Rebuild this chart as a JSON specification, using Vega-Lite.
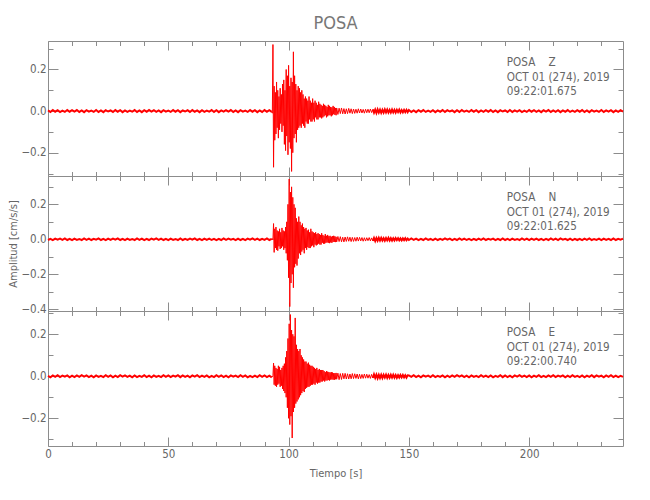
{
"$schema":"https://vega.github.io/schema/vega-lite/v6.json",
"padding":{"left":7,"top":15,"right":5,"bottom":5},
"background":"white",
"title":{"text":"POSA","fontSize":18,"font":"DejaVu Sans Condensed, sans-serif","fontWeight":"normal","color":"#777","anchor":"middle","frame":"group","offset":7},
"data":{"name":"trace","values":[
{"t":0,"z":0.003,"n":-0.004,"e":0.002},{"t":1,"z":-0.004,"n":0.003,"e":-0.005},{"t":2,"z":0.005,"n":-0.005,"e":0.004},{"t":3,"z":-0.003,"n":0.004,"e":-0.003},{"t":4,"z":0.004,"n":-0.002,"e":0.005},{"t":5,"z":-0.005,"n":0.004,"e":-0.004},{"t":6,"z":0.002,"n":-0.003,"e":0.003},{"t":7,"z":-0.004,"n":0.005,"e":-0.002},{"t":8,"z":0.005,"n":-0.004,"e":0.004},{"t":9,"z":-0.003,"n":0.003,"e":-0.005},
{"t":10,"z":0.004,"n":-0.005,"e":0.003},{"t":11,"z":-0.002,"n":0.004,"e":-0.004},{"t":12,"z":0.005,"n":-0.003,"e":0.004},{"t":13,"z":-0.004,"n":0.002,"e":-0.003},{"t":14,"z":0.003,"n":-0.004,"e":0.005},{"t":15,"z":-0.005,"n":0.005,"e":-0.002},{"t":16,"z":0.004,"n":-0.003,"e":0.004},{"t":17,"z":-0.003,"n":0.004,"e":-0.004},{"t":18,"z":0.002,"n":-0.004,"e":0.003},{"t":19,"z":-0.004,"n":0.003,"e":-0.005},
{"t":20,"z":0.005,"n":-0.002,"e":0.004},{"t":21,"z":-0.004,"n":0.005,"e":-0.003},{"t":22,"z":0.003,"n":-0.004,"e":0.002},{"t":23,"z":-0.005,"n":0.003,"e":-0.004},{"t":24,"z":0.004,"n":-0.005,"e":0.005},{"t":25,"z":-0.002,"n":0.004,"e":-0.003},{"t":26,"z":0.003,"n":-0.003,"e":0.004},{"t":27,"z":-0.004,"n":0.004,"e":-0.005},{"t":28,"z":0.005,"n":-0.002,"e":0.003},{"t":29,"z":-0.003,"n":0.005,"e":-0.004},
{"t":30,"z":0.004,"n":-0.004,"e":0.005},{"t":31,"z":-0.005,"n":0.003,"e":-0.002},{"t":32,"z":0.003,"n":-0.005,"e":0.004},{"t":33,"z":-0.004,"n":0.004,"e":-0.003},{"t":34,"z":0.002,"n":-0.003,"e":0.003},{"t":35,"z":-0.003,"n":0.002,"e":-0.005},{"t":36,"z":0.005,"n":-0.004,"e":0.004},{"t":37,"z":-0.004,"n":0.005,"e":-0.004},{"t":38,"z":0.003,"n":-0.003,"e":0.002},{"t":39,"z":-0.005,"n":0.004,"e":-0.003},
{"t":40,"z":0.004,"n":-0.005,"e":0.005},{"t":41,"z":-0.003,"n":0.003,"e":-0.004},{"t":42,"z":0.005,"n":-0.004,"e":0.003},{"t":43,"z":-0.002,"n":0.004,"e":-0.005},{"t":44,"z":0.004,"n":-0.002,"e":0.004},{"t":45,"z":-0.004,"n":0.005,"e":-0.003},{"t":46,"z":0.003,"n":-0.003,"e":0.002},{"t":47,"z":-0.005,"n":0.004,"e":-0.004},{"t":48,"z":0.004,"n":-0.004,"e":0.005},{"t":49,"z":-0.003,"n":0.003,"e":-0.003},
{"t":50,"z":0.002,"n":-0.005,"e":0.004},{"t":51,"z":-0.004,"n":0.004,"e":-0.004},{"t":52,"z":0.005,"n":-0.003,"e":0.003},{"t":53,"z":-0.003,"n":0.002,"e":-0.002},{"t":54,"z":0.004,"n":-0.004,"e":0.005},{"t":55,"z":-0.005,"n":0.005,"e":-0.004},{"t":56,"z":0.003,"n":-0.004,"e":0.004},{"t":57,"z":-0.002,"n":0.003,"e":-0.003},{"t":58,"z":0.004,"n":-0.003,"e":0.003},{"t":59,"z":-0.004,"n":0.004,"e":-0.005},
{"t":60,"z":0.005,"n":-0.002,"e":0.004},{"t":61,"z":-0.003,"n":0.005,"e":-0.002},{"t":62,"z":0.003,"n":-0.004,"e":0.005},{"t":63,"z":-0.005,"n":0.003,"e":-0.004},{"t":64,"z":0.004,"n":-0.005,"e":0.003},{"t":65,"z":-0.004,"n":0.004,"e":-0.003},{"t":66,"z":0.002,"n":-0.003,"e":0.004},{"t":67,"z":-0.003,"n":0.004,"e":-0.005},{"t":68,"z":0.005,"n":-0.004,"e":0.002},{"t":69,"z":-0.004,"n":0.002,"e":-0.004},
{"t":70,"z":0.004,"n":-0.005,"e":0.005},{"t":71,"z":-0.005,"n":0.003,"e":-0.003},{"t":72,"z":0.003,"n":-0.004,"e":0.004},{"t":73,"z":-0.003,"n":0.005,"e":-0.004},{"t":74,"z":0.004,"n":-0.003,"e":0.003},{"t":75,"z":-0.002,"n":0.004,"e":-0.005},{"t":76,"z":0.005,"n":-0.002,"e":0.004},{"t":77,"z":-0.004,"n":0.003,"e":-0.002},{"t":78,"z":0.003,"n":-0.005,"e":0.003},{"t":79,"z":-0.005,"n":0.004,"e":-0.004},
{"t":80,"z":0.004,"n":-0.004,"e":0.005},{"t":81,"z":-0.003,"n":0.003,"e":-0.003},{"t":82,"z":0.002,"n":-0.005,"e":0.004},{"t":83,"z":-0.004,"n":0.004,"e":-0.005},{"t":84,"z":0.005,"n":-0.002,"e":0.002},{"t":85,"z":-0.003,"n":0.005,"e":-0.004},{"t":86,"z":0.004,"n":-0.003,"e":0.003},{"t":87,"z":-0.005,"n":0.004,"e":-0.004},{"t":88,"z":0.003,"n":-0.004,"e":0.005},{"t":89,"z":-0.004,"n":0.003,"e":-0.003},
{"t":90,"z":0.005,"n":-0.003,"e":0.004},{"t":91,"z":-0.003,"n":0.005,"e":-0.004},{"t":92,"z":0.004,"n":-0.004,"e":0.003},{"t":93,"z":-0.004,"n":0.003,"e":-0.005},
{"t":93.25,"z":-0.01,"n":0.004,"e":-0.003},{"t":93.5,"z":0.32,"n":-0.004,"e":0.002},{"t":93.75,"z":-0.27,"n":0.09,"e":0.063},
{"t":94,"z":0.12,"n":-0.075,"e":-0.04},{"t":94.25,"z":-0.14,"n":0.06,"e":0.05},{"t":94.5,"z":0.09,"n":-0.05,"e":-0.045},{"t":94.75,"z":-0.11,"n":0.07,"e":0.04},
{"t":95,"z":0.14,"n":-0.06,"e":-0.05},{"t":95.25,"z":-0.08,"n":0.05,"e":0.035},{"t":95.5,"z":0.1,"n":-0.065,"e":-0.04},{"t":95.75,"z":-0.13,"n":0.045,"e":0.05},
{"t":96,"z":0.07,"n":-0.04,"e":-0.035},{"t":96.25,"z":-0.09,"n":0.06,"e":0.045},{"t":96.5,"z":0.11,"n":-0.055,"e":-0.05},{"t":96.75,"z":-0.06,"n":0.04,"e":0.03},
{"t":97,"z":0.08,"n":-0.05,"e":-0.045},{"t":97.25,"z":-0.1,"n":0.065,"e":0.04},{"t":97.5,"z":0.13,"n":-0.04,"e":-0.06},{"t":97.75,"z":-0.07,"n":0.05,"e":0.05},
{"t":98,"z":0.15,"n":-0.06,"e":-0.07},{"t":98.25,"z":-0.16,"n":0.045,"e":0.06},{"t":98.5,"z":0.1,"n":-0.05,"e":-0.08},{"t":98.75,"z":-0.19,"n":0.07,"e":0.09},
{"t":99,"z":0.2,"n":-0.08,"e":-0.1},{"t":99.25,"z":-0.12,"n":0.1,"e":0.12},{"t":99.5,"z":0.17,"n":-0.12,"e":-0.15},{"t":99.75,"z":-0.21,"n":0.2,"e":0.18},
{"t":100,"z":0.22,"n":-0.22,"e":-0.2},{"t":100.25,"z":-0.15,"n":0.345,"e":0.25},{"t":100.5,"z":0.12,"n":-0.385,"e":-0.23},{"t":100.75,"z":-0.18,"n":0.27,"e":0.294},
{"t":101,"z":0.16,"n":-0.25,"e":-0.19},{"t":101.25,"z":-0.29,"n":0.3,"e":0.22},{"t":101.5,"z":0.14,"n":-0.2,"e":-0.294},{"t":101.75,"z":-0.2,"n":0.24,"e":0.2},
{"t":102,"z":0.285,"n":-0.277,"e":-0.17},{"t":102.25,"z":-0.13,"n":0.2,"e":0.19},{"t":102.5,"z":0.17,"n":-0.16,"e":-0.15},{"t":102.75,"z":-0.11,"n":0.18,"e":0.278},
{"t":103,"z":0.13,"n":-0.14,"e":-0.13},{"t":103.25,"z":-0.15,"n":0.12,"e":0.15},{"t":103.5,"z":0.1,"n":-0.15,"e":-0.12},{"t":103.75,"z":-0.09,"n":0.1,"e":0.13},
{"t":104,"z":0.12,"n":-0.11,"e":-0.11},{"t":104.25,"z":-0.08,"n":0.13,"e":0.12},{"t":104.5,"z":0.11,"n":-0.08,"e":-0.1},{"t":104.75,"z":-0.07,"n":0.1,"e":0.13},
{"t":105,"z":0.09,"n":-0.09,"e":-0.09},{"t":105.25,"z":-0.08,"n":0.08,"e":0.1},{"t":105.5,"z":0.1,"n":-0.07,"e":-0.08},{"t":105.75,"z":-0.06,"n":0.09,"e":0.09},
{"t":106,"z":0.08,"n":-0.06,"e":-0.07},{"t":106.25,"z":-0.07,"n":0.07,"e":0.08},{"t":106.5,"z":0.06,"n":-0.08,"e":-0.075},{"t":106.75,"z":-0.08,"n":0.06,"e":0.07},
{"t":107,"z":0.07,"n":-0.05,"e":-0.06},{"t":107.25,"z":-0.05,"n":0.065,"e":0.07},{"t":107.5,"z":0.06,"n":-0.06,"e":-0.055},{"t":107.75,"z":-0.06,"n":0.05,"e":0.06},
{"t":108,"z":0.05,"n":-0.045,"e":-0.05},{"t":108.25,"z":-0.06,"n":0.055,"e":0.065},{"t":108.5,"z":0.07,"n":-0.05,"e":-0.05},{"t":108.75,"z":-0.04,"n":0.04,"e":0.055},
{"t":109,"z":0.05,"n":-0.05,"e":-0.045},{"t":109.25,"z":-0.05,"n":0.06,"e":0.05},{"t":109.5,"z":0.04,"n":-0.04,"e":-0.04},{"t":109.75,"z":-0.05,"n":0.045,"e":0.05},
{"t":110,"z":0.06,"n":-0.035,"e":-0.04},{"t":110.25,"z":-0.04,"n":0.04,"e":0.045},{"t":110.5,"z":0.04,"n":-0.045,"e":-0.035},{"t":110.75,"z":-0.05,"n":0.035,"e":0.04},
{"t":111,"z":0.05,"n":-0.03,"e":-0.04},{"t":111.25,"z":-0.03,"n":0.04,"e":0.035},{"t":111.5,"z":0.04,"n":-0.035,"e":-0.03},{"t":111.75,"z":-0.04,"n":0.03,"e":0.04},
{"t":112,"z":0.03,"n":-0.03,"e":-0.035},{"t":112.25,"z":-0.04,"n":0.035,"e":0.03},{"t":112.5,"z":0.045,"n":-0.025,"e":-0.03},{"t":112.75,"z":-0.03,"n":0.03,"e":0.035},
{"t":113,"z":0.035,"n":-0.03,"e":-0.03},{"t":113.25,"z":-0.03,"n":0.025,"e":0.03},{"t":113.5,"z":0.03,"n":-0.03,"e":-0.025},{"t":113.75,"z":-0.035,"n":0.035,"e":0.03},
{"t":114,"z":0.025,"n":-0.02,"e":-0.025},{"t":114.25,"z":-0.03,"n":0.025,"e":0.03},{"t":114.5,"z":0.035,"n":-0.025,"e":-0.02},{"t":114.75,"z":-0.025,"n":0.02,"e":0.025},
{"t":115,"z":0.03,"n":-0.025,"e":-0.025},{"t":115.25,"z":-0.02,"n":0.03,"e":0.02},{"t":115.5,"z":0.025,"n":-0.02,"e":-0.02},{"t":115.75,"z":-0.03,"n":0.02,"e":0.025},
{"t":116,"z":0.02,"n":-0.018,"e":-0.02},{"t":116.25,"z":-0.025,"n":0.025,"e":0.022},{"t":116.5,"z":0.03,"n":-0.02,"e":-0.018},{"t":116.75,"z":-0.02,"n":0.018,"e":0.02},
{"t":117,"z":0.025,"n":-0.022,"e":-0.02},{"t":117.25,"z":-0.02,"n":0.02,"e":0.018},{"t":117.5,"z":0.02,"n":-0.018,"e":-0.016},{"t":117.75,"z":-0.025,"n":0.015,"e":0.02},
{"t":118,"z":0.018,"n":-0.02,"e":-0.015},{"t":118.25,"z":-0.02,"n":0.018,"e":0.018},{"t":118.5,"z":0.025,"n":-0.015,"e":-0.016},{"t":118.75,"z":-0.015,"n":0.02,"e":0.015},
{"t":119,"z":0.02,"n":-0.015,"e":-0.017},{"t":119.25,"z":-0.018,"n":0.017,"e":0.015},{"t":119.5,"z":0.015,"n":-0.016,"e":-0.014},{"t":119.75,"z":-0.02,"n":0.014,"e":0.016},
{"t":120,"z":0.015,"n":-0.015,"e":-0.014},{"t":120.5,"z":-0.016,"n":0.016,"e":0.015},{"t":121,"z":0.014,"n":-0.013,"e":-0.016},{"t":121.5,"z":-0.012,"n":0.015,"e":0.013},
{"t":122,"z":0.015,"n":-0.014,"e":-0.015},{"t":122.5,"z":-0.013,"n":0.012,"e":0.014},{"t":123,"z":0.012,"n":-0.015,"e":-0.012},{"t":123.5,"z":-0.014,"n":0.013,"e":0.014},
{"t":124,"z":0.011,"n":-0.012,"e":-0.013},{"t":124.5,"z":-0.012,"n":0.014,"e":0.012},{"t":125,"z":0.013,"n":-0.011,"e":-0.013},{"t":125.5,"z":-0.01,"n":0.012,"e":0.011},
{"t":126,"z":0.011,"n":-0.013,"e":-0.012},{"t":126.5,"z":-0.012,"n":0.011,"e":0.013},{"t":127,"z":0.01,"n":-0.012,"e":-0.011},{"t":127.5,"z":-0.011,"n":0.01,"e":0.012},
{"t":128,"z":0.009,"n":-0.011,"e":-0.01},{"t":128.5,"z":-0.01,"n":0.012,"e":0.011},{"t":129,"z":0.011,"n":-0.01,"e":-0.012},{"t":129.5,"z":-0.009,"n":0.011,"e":0.01},
{"t":130,"z":0.01,"n":-0.009,"e":-0.011},{"t":130.5,"z":-0.009,"n":0.01,"e":0.009},{"t":131,"z":0.008,"n":-0.011,"e":-0.01},{"t":131.5,"z":-0.01,"n":0.009,"e":0.011},
{"t":132,"z":0.009,"n":-0.01,"e":-0.009},{"t":132.5,"z":-0.008,"n":0.009,"e":0.01},{"t":133,"z":0.009,"n":-0.008,"e":-0.009},{"t":133.5,"z":-0.008,"n":0.01,"e":0.008},
{"t":134,"z":0.01,"n":-0.009,"e":-0.01},{"t":134.5,"z":-0.007,"n":0.008,"e":0.009},{"t":135,"z":0.008,"n":-0.009,"e":-0.008},{"t":135.5,"z":-0.008,"n":0.008,"e":0.009},
{"t":136,"z":0.007,"n":-0.01,"e":-0.007},{"t":136.5,"z":-0.009,"n":0.007,"e":0.008},{"t":137,"z":0.008,"n":-0.008,"e":-0.009},{"t":137.5,"z":-0.007,"n":0.009,"e":0.007},
{"t":138,"z":0.007,"n":-0.007,"e":-0.008},{"t":138.5,"z":-0.008,"n":0.008,"e":0.007},{"t":139,"z":0.006,"n":-0.007,"e":-0.008},{"t":139.5,"z":-0.007,"n":0.006,"e":0.007},
{"t":140,"z":0.008,"n":-0.008,"e":-0.006},{"t":140.5,"z":-0.006,"n":0.007,"e":0.008},{"t":141,"z":0.007,"n":-0.006,"e":-0.007},{"t":141.5,"z":-0.007,"n":0.008,"e":0.006},
{"t":142,"z":0.006,"n":-0.007,"e":-0.007},{"t":142.5,"z":-0.007,"n":0.006,"e":0.007},{"t":143,"z":0.007,"n":-0.007,"e":-0.006},{"t":143.5,"z":-0.006,"n":0.006,"e":0.007},
{"t":144,"z":0.006,"n":-0.006,"e":-0.006},{"t":144.5,"z":-0.007,"n":0.007,"e":0.006},{"t":145,"z":0.006,"n":-0.005,"e":-0.007},{"t":145.5,"z":-0.005,"n":0.006,"e":0.005},
{"t":146,"z":0.007,"n":-0.006,"e":-0.006},{"t":146.5,"z":-0.006,"n":0.005,"e":0.006},{"t":147,"z":0.005,"n":-0.006,"e":-0.005},{"t":147.5,"z":-0.006,"n":0.005,"e":0.006},
{"t":148,"z":0.006,"n":-0.005,"e":-0.005},{"t":148.5,"z":-0.005,"n":0.006,"e":0.005},{"t":149,"z":0.006,"n":-0.005,"e":-0.006},{"t":149.5,"z":-0.005,"n":0.004,"e":0.005},
{"t":150,"z":0.005,"n":-0.004,"e":0.004},{"t":151,"z":-0.004,"n":0.005,"e":-0.003},{"t":152,"z":0.003,"n":-0.003,"e":0.005},{"t":153,"z":-0.005,"n":0.004,"e":-0.004},{"t":154,"z":0.004,"n":-0.005,"e":0.003},{"t":155,"z":-0.003,"n":0.003,"e":-0.005},{"t":156,"z":0.005,"n":-0.004,"e":0.004},{"t":157,"z":-0.004,"n":0.005,"e":-0.002},{"t":158,"z":0.002,"n":-0.003,"e":0.003},{"t":159,"z":-0.004,"n":0.002,"e":-0.004},
{"t":160,"z":0.004,"n":-0.005,"e":0.005},{"t":161,"z":-0.005,"n":0.004,"e":-0.004},{"t":162,"z":0.003,"n":-0.004,"e":0.002},{"t":163,"z":-0.003,"n":0.003,"e":-0.003},{"t":164,"z":0.005,"n":-0.003,"e":0.004},{"t":165,"z":-0.004,"n":0.005,"e":-0.005},{"t":166,"z":0.004,"n":-0.002,"e":0.003},{"t":167,"z":-0.002,"n":0.004,"e":-0.004},{"t":168,"z":0.003,"n":-0.005,"e":0.004},{"t":169,"z":-0.005,"n":0.003,"e":-0.003},
{"t":170,"z":0.004,"n":-0.004,"e":0.005},{"t":171,"z":-0.004,"n":0.005,"e":-0.002},{"t":172,"z":0.005,"n":-0.003,"e":0.004},{"t":173,"z":-0.003,"n":0.004,"e":-0.004},{"t":174,"z":0.002,"n":-0.004,"e":0.003},{"t":175,"z":-0.004,"n":0.002,"e":-0.005},{"t":176,"z":0.005,"n":-0.005,"e":0.004},{"t":177,"z":-0.003,"n":0.003,"e":-0.003},{"t":178,"z":0.004,"n":-0.004,"e":0.002},{"t":179,"z":-0.005,"n":0.004,"e":-0.004},
{"t":180,"z":0.003,"n":-0.003,"e":0.005},{"t":181,"z":-0.004,"n":0.005,"e":-0.003},{"t":182,"z":0.004,"n":-0.004,"e":0.003},{"t":183,"z":-0.003,"n":0.003,"e":-0.004},{"t":184,"z":0.005,"n":-0.002,"e":0.004},{"t":185,"z":-0.004,"n":0.004,"e":-0.005},{"t":186,"z":0.003,"n":-0.005,"e":0.002},{"t":187,"z":-0.005,"n":0.003,"e":-0.003},{"t":188,"z":0.004,"n":-0.004,"e":0.005},{"t":189,"z":-0.002,"n":0.005,"e":-0.004},
{"t":190,"z":0.003,"n":-0.004,"e":0.004},{"t":191,"z":-0.004,"n":0.003,"e":-0.004},{"t":192,"z":0.005,"n":-0.005,"e":0.003},{"t":193,"z":-0.004,"n":0.004,"e":-0.005},{"t":194,"z":0.003,"n":-0.003,"e":0.004},{"t":195,"z":-0.003,"n":0.002,"e":-0.002},{"t":196,"z":0.004,"n":-0.004,"e":0.005},{"t":197,"z":-0.005,"n":0.005,"e":-0.003},{"t":198,"z":0.002,"n":-0.003,"e":0.003},{"t":199,"z":-0.004,"n":0.004,"e":-0.004},
{"t":200,"z":0.005,"n":-0.005,"e":0.004},{"t":201,"z":-0.003,"n":0.004,"e":-0.005},{"t":202,"z":0.004,"n":-0.003,"e":0.003},{"t":203,"z":-0.004,"n":0.004,"e":-0.003},{"t":204,"z":0.003,"n":-0.004,"e":0.005},{"t":205,"z":-0.005,"n":0.003,"e":-0.004},{"t":206,"z":0.004,"n":-0.005,"e":0.002},{"t":207,"z":-0.002,"n":0.002,"e":-0.004},{"t":208,"z":0.005,"n":-0.004,"e":0.004},{"t":209,"z":-0.004,"n":0.005,"e":-0.003},
{"t":210,"z":0.003,"n":-0.003,"e":0.005},{"t":211,"z":-0.004,"n":0.004,"e":-0.004},{"t":212,"z":0.004,"n":-0.004,"e":0.003},{"t":213,"z":-0.005,"n":0.005,"e":-0.002},{"t":214,"z":0.003,"n":-0.002,"e":0.004},{"t":215,"z":-0.003,"n":0.003,"e":-0.005},{"t":216,"z":0.005,"n":-0.004,"e":0.003},{"t":217,"z":-0.004,"n":0.004,"e":-0.004},{"t":218,"z":0.002,"n":-0.005,"e":0.005},{"t":219,"z":-0.004,"n":0.003,"e":-0.003},
{"t":220,"z":0.004,"n":-0.004,"e":0.002},{"t":221,"z":-0.003,"n":0.003,"e":-0.004},{"t":222,"z":0.005,"n":-0.005,"e":0.004},{"t":223,"z":-0.004,"n":0.004,"e":-0.005},{"t":224,"z":0.003,"n":-0.003,"e":0.003},{"t":225,"z":-0.005,"n":0.005,"e":-0.003},{"t":226,"z":0.004,"n":-0.004,"e":0.005},{"t":227,"z":-0.003,"n":0.002,"e":-0.004},{"t":228,"z":0.002,"n":-0.003,"e":0.004},{"t":229,"z":-0.004,"n":0.004,"e":-0.002},
{"t":230,"z":0.005,"n":-0.005,"e":0.003},{"t":231,"z":-0.004,"n":0.004,"e":-0.005},{"t":232,"z":0.003,"n":-0.003,"e":0.004},{"t":233,"z":-0.003,"n":0.003,"e":-0.003},{"t":234,"z":0.004,"n":-0.004,"e":0.005},{"t":235,"z":-0.005,"n":0.005,"e":-0.004},{"t":236,"z":0.003,"n":-0.004,"e":0.003},{"t":237,"z":-0.004,"n":0.003,"e":-0.004},{"t":238,"z":0.004,"n":-0.002,"e":0.002},{"t":239,"z":-0.003,"n":0.004,"e":-0.003}
]},
"spacing":0,
"bounds":"flush",
"vconcat":[
{"width":575,"height":135,
 "layer":[
  {"transform":[{"filter":"datum.t <= 93"}],"mark":{"type":"line","color":"#ff0000","strokeWidth":2},
   "encoding":{
    "x":{"field":"t","type":"quantitative","scale":{"domain":[0,239],"nice":false,"zero":false},"axis":{"orient":"bottom","values":[0,10,20,30,40,50,60,70,80,90,100,110,120,130,140,150,160,170,180,190,200,210,220,230],"labels":false,"title":null,"tickSize":{"expr":"datum.value % 50 === 0 ? -9 : -4.5"}}},
    "y":{"field":"z","type":"quantitative","scale":{"domain":[-0.312,0.337],"nice":false,"zero":false},"axis":{"orient":"left","values":[-0.3,-0.2,-0.1,0,0.1,0.2,0.3],"format":".1f","labelExpr":"abs(round(datum.value*10)) % 2 === 0 ? datum.label : ''","labelPadding":12,"tickSize":{"expr":"abs(round(datum.value*10)) % 2 === 0 ? -10 : -5"},"title":null}}}},
  {"transform":[{"filter":"datum.t >= 93 && datum.t <= 135"}],"mark":{"type":"line","color":"#ff0000","strokeWidth":1},
   "encoding":{
    "x":{"field":"t","type":"quantitative","scale":{"domain":[0,239],"nice":false,"zero":false},"axis":{"orient":"top","values":[0,10,20,30,40,50,60,70,80,90,100,110,120,130,140,150,160,170,180,190,200,210,220,230],"labels":false,"title":null,"tickSize":{"expr":"datum.value % 50 === 0 ? -9 : -4.5"}}},
    "y":{"field":"z","type":"quantitative","scale":{"domain":[-0.312,0.337],"nice":false,"zero":false},"axis":{"orient":"right","values":[-0.3,-0.2,-0.1,0,0.1,0.2,0.3],"labels":false,"tickSize":{"expr":"abs(round(datum.value*10)) % 2 === 0 ? -10 : -5"},"title":null}}}},
  {"transform":[{"filter":"datum.t >= 135"}],"mark":{"type":"line","color":"#ff0000","strokeWidth":2},
   "encoding":{"x":{"field":"t","type":"quantitative","axis":null},"y":{"field":"z","type":"quantitative","axis":null}}},
  {"data":{"values":[{}]},"mark":{"type":"text","align":"left","baseline":"alphabetic","fontSize":11.6,"lineHeight":14.7,"font":"DejaVu Sans Condensed, sans-serif","color":"#666"},
   "encoding":{"x":{"datum":190.7,"type":"quantitative","axis":null},"y":{"datum":0.217,"type":"quantitative","axis":null},"text":{"value":["POSA\u00a0\u00a0\u00a0\u00a0Z","OCT 01 (274), 2019","09:22:01.675"]}}}
 ],
 "resolve":{"axis":{"x":"independent","y":"independent"}}
},
{"width":575,"height":135,
 "layer":[
  {"transform":[{"filter":"datum.t <= 93"}],"mark":{"type":"line","color":"#ff0000","strokeWidth":2},
   "encoding":{
    "x":{"field":"t","type":"quantitative","scale":{"domain":[0,239],"nice":false,"zero":false},"axis":{"orient":"bottom","values":[0,10,20,30,40,50,60,70,80,90,100,110,120,130,140,150,160,170,180,190,200,210,220,230],"labels":false,"title":null,"tickSize":{"expr":"datum.value % 50 === 0 ? -9 : -4.5"}}},
    "y":{"field":"n","type":"quantitative","scale":{"domain":[-0.41,0.362],"nice":false,"zero":false},"axis":{"orient":"left","values":[-0.4,-0.3,-0.2,-0.1,0,0.1,0.2,0.3],"format":".1f","labelExpr":"abs(round(datum.value*10)) % 2 === 0 ? datum.label : ''","labelPadding":12,"tickSize":{"expr":"abs(round(datum.value*10)) % 2 === 0 ? -10 : -5"},"title":"Amplitud [cm/s/s]","titlePadding":2,"titleColor":"#666"}}}},
  {"transform":[{"filter":"datum.t >= 93 && datum.t <= 135"}],"mark":{"type":"line","color":"#ff0000","strokeWidth":1},
   "encoding":{
    "x":{"field":"t","type":"quantitative","scale":{"domain":[0,239],"nice":false,"zero":false},"axis":{"orient":"top","values":[0,10,20,30,40,50,60,70,80,90,100,110,120,130,140,150,160,170,180,190,200,210,220,230],"labels":false,"title":null,"tickSize":{"expr":"datum.value % 50 === 0 ? -9 : -4.5"}}},
    "y":{"field":"n","type":"quantitative","scale":{"domain":[-0.41,0.362],"nice":false,"zero":false},"axis":{"orient":"right","values":[-0.4,-0.3,-0.2,-0.1,0,0.1,0.2,0.3],"labels":false,"tickSize":{"expr":"abs(round(datum.value*10)) % 2 === 0 ? -10 : -5"},"title":null}}}},
  {"transform":[{"filter":"datum.t >= 135"}],"mark":{"type":"line","color":"#ff0000","strokeWidth":2},
   "encoding":{"x":{"field":"t","type":"quantitative","axis":null},"y":{"field":"n","type":"quantitative","axis":null}}},
  {"data":{"values":[{}]},"mark":{"type":"text","align":"left","baseline":"alphabetic","fontSize":11.6,"lineHeight":14.7,"font":"DejaVu Sans Condensed, sans-serif","color":"#666"},
   "encoding":{"x":{"datum":190.7,"type":"quantitative","axis":null},"y":{"datum":0.219,"type":"quantitative","axis":null},"text":{"value":["POSA\u00a0\u00a0\u00a0\u00a0N","OCT 01 (274), 2019","09:22:01.625"]}}}
 ],
 "resolve":{"axis":{"x":"independent","y":"independent"}}
},
{"width":575,"height":135,
 "layer":[
  {"transform":[{"filter":"datum.t <= 93"}],"mark":{"type":"line","color":"#ff0000","strokeWidth":2},
   "encoding":{
    "x":{"field":"t","type":"quantitative","scale":{"domain":[0,239],"nice":false,"zero":false},"axis":{"orient":"bottom","values":[0,10,20,30,40,50,60,70,80,90,100,110,120,130,140,150,160,170,180,190,200,210,220,230],"labels":true,"labelExpr":"datum.value % 50 === 0 ? datum.label : ''","labelPadding":11,"title":"Tiempo [s]","titlePadding":3.5,"titleColor":"#666","tickSize":{"expr":"datum.value % 50 === 0 ? -9 : -4.5"}}},
    "y":{"field":"e","type":"quantitative","scale":{"domain":[-0.332,0.311],"nice":false,"zero":false},"axis":{"orient":"left","values":[-0.3,-0.2,-0.1,0,0.1,0.2,0.3],"format":".1f","labelExpr":"abs(round(datum.value*10)) % 2 === 0 ? datum.label : ''","labelPadding":12,"tickSize":{"expr":"abs(round(datum.value*10)) % 2 === 0 ? -10 : -5"},"title":null}}}},
  {"transform":[{"filter":"datum.t >= 93 && datum.t <= 135"}],"mark":{"type":"line","color":"#ff0000","strokeWidth":1},
   "encoding":{
    "x":{"field":"t","type":"quantitative","scale":{"domain":[0,239],"nice":false,"zero":false},"axis":{"orient":"top","values":[0,10,20,30,40,50,60,70,80,90,100,110,120,130,140,150,160,170,180,190,200,210,220,230],"labels":false,"title":null,"tickSize":{"expr":"datum.value % 50 === 0 ? -9 : -4.5"}}},
    "y":{"field":"e","type":"quantitative","scale":{"domain":[-0.332,0.311],"nice":false,"zero":false},"axis":{"orient":"right","values":[-0.3,-0.2,-0.1,0,0.1,0.2,0.3],"labels":false,"tickSize":{"expr":"abs(round(datum.value*10)) % 2 === 0 ? -10 : -5"},"title":null}}}},
  {"transform":[{"filter":"datum.t >= 135"}],"mark":{"type":"line","color":"#ff0000","strokeWidth":2},
   "encoding":{"x":{"field":"t","type":"quantitative","axis":null},"y":{"field":"e","type":"quantitative","axis":null}}},
  {"data":{"values":[{}]},"mark":{"type":"text","align":"left","baseline":"alphabetic","fontSize":11.6,"lineHeight":14.7,"font":"DejaVu Sans Condensed, sans-serif","color":"#666"},
   "encoding":{"x":{"datum":190.7,"type":"quantitative","axis":null},"y":{"datum":0.192,"type":"quantitative","axis":null},"text":{"value":["POSA\u00a0\u00a0\u00a0\u00a0E","OCT 01 (274), 2019","09:22:00.740"]}}}
 ],
 "resolve":{"axis":{"x":"independent","y":"independent"}}
}
],
"config":{
 "view":{"stroke":"#8c8c8c","strokeWidth":1},
 "axis":{"domain":false,"grid":false,"tickColor":"#8c8c8c","tickWidth":1,"labelFont":"DejaVu Sans Condensed, sans-serif","labelFontSize":11.5,"labelColor":"#666","labelFlush":false,"labelOverlap":false,"labelBound":false,"titleFont":"DejaVu Sans Condensed, sans-serif","titleFontSize":11,"titleColor":"#666","titleFontWeight":"normal"}
}
}
